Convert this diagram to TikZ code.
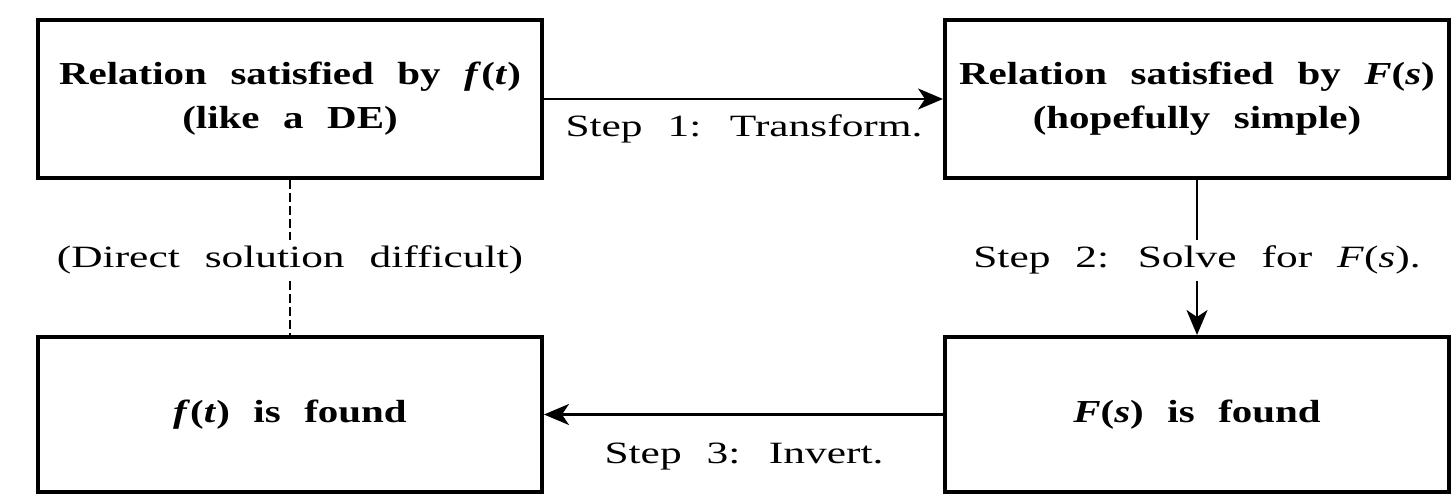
\documentclass[tikz,border=0pt]{standalone}
\usepackage{fontspec}
\setmainfont{Liberation Serif}[FakeStretch=1.28, WordSpace=2.3]
\newfontfamily\lblfont{Liberation Serif}[FakeStretch=1.4, WordSpace=2.3]
\usetikzlibrary{arrows.meta}
\begin{document}
\begin{tikzpicture}[x=1pt,y=-1pt,
  box/.style={draw, line width=4pt, inner sep=0pt, align=center,
    font=\fontsize{32}{44}\selectfont\bfseries},
  toprow/.style={minimum width=504pt, minimum height=158pt},
  botrow/.style={minimum width=504pt, minimum height=155pt},
  lbl/.style={inner xsep=0pt, inner ysep=6pt, font=\lblfont\fontsize{31}{38}\selectfont},
  conn/.style={line width=2.5pt},
  tip/.style={-{Stealth[length=25pt,width=21pt,inset=7pt]}},
  broken/.style={line width=2pt, dash pattern=on 9pt off 4pt}]
\useasboundingbox (0,0) rectangle (1451,494);
\node[box, toprow] (tl) at (290,99) {Relation satisfied by \textit{f}(\textit{t})\\(like a DE)};
\node[box, toprow] (tr) at (1197,99) {Relation satisfied by \textit{F}(\textit{s})\\(hopefully simple)};
\node[box, botrow] (bl) at (290,414.5) {\textit{f}(\textit{t}) is found};
\node[box, botrow] (br) at (1197,414.5) {\textit{F}(\textit{s}) is found};
\node[lbl, anchor=base] (s1) at (744,137) {Step 1: Transform.};
\node[lbl, anchor=base] (s2) at (1197,268) {Step 2: Solve for \textit{F}(\textit{s}).};
\node[lbl, anchor=base] (s3) at (744,463) {Step 3: Invert.};
\node[lbl, anchor=base] (dd) at (290,268) {(Direct solution difficult)};
\draw[conn, tip] (tl.east) -- (tr.west);
\draw[conn] (tr.south) -- (tr.south |- s2.north);
\draw[conn, tip] (br.north |- s2.south) -- (br.north);
\draw[conn, tip] (br.west) -- (bl.east);
\draw[broken] (tl.south) -- (tl.south |- dd.north);
\draw[broken] (bl.north |- dd.south) -- (bl.north);
\end{tikzpicture}
\end{document}
